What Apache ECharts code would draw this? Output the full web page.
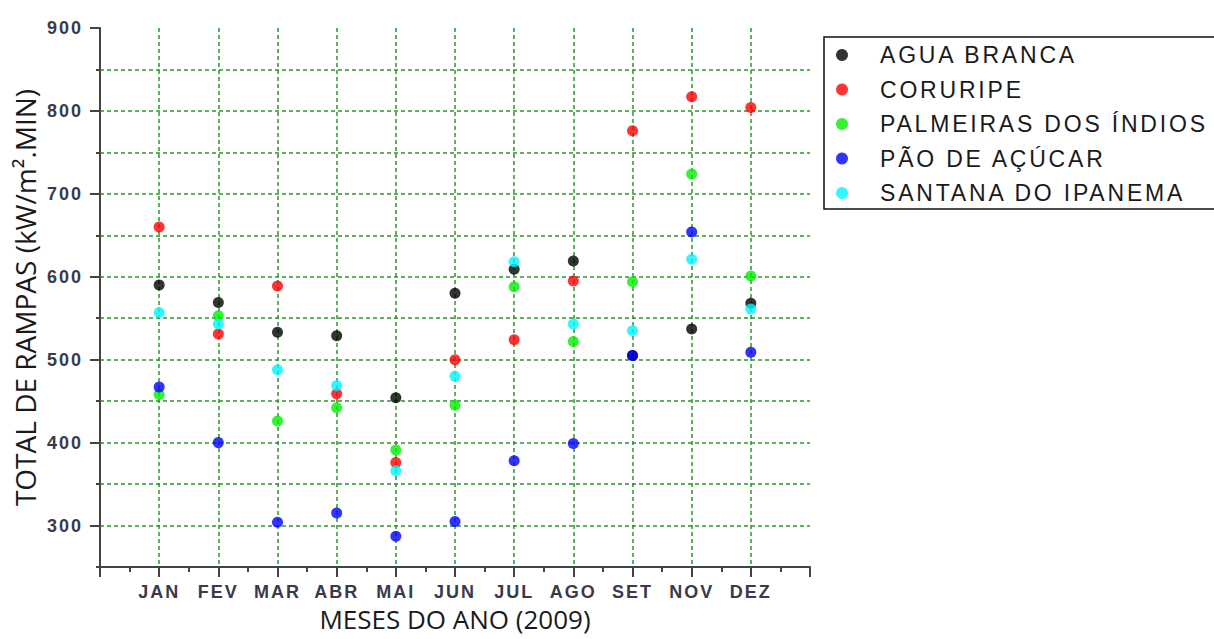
<!DOCTYPE html>
<html>
<head>
<meta charset="utf-8">
<script src="https://cdn.jsdelivr.net/npm/echarts@6/dist/echarts.min.js"></script>
<style>
  html, body { margin: 0; padding: 0; background: #fff; overflow: hidden; }
  #chart { width: 1214px; height: 639px; overflow: hidden; }
  /* spaced-out lettering for tick labels and legend entries */
  #chart text[style*="18px"] { letter-spacing: 2px; }
  #chart text[style*="23px"] { letter-spacing: 2.8px; }
</style>
</head>
<body>
<div id="chart"></div>
<script>
// Months shown on the x axis (positions 1..11)
const months = ['JAN', 'FEV', 'MAR', 'ABR', 'MAI', 'JUN', 'JUL', 'AGO', 'SET', 'NOV', 'DEZ'];
const yTickLabels = [300, 400, 500, 600, 700, 800, 900];

// Total de rampas per station, one value per month
const aguaBranca        = [590, 569, 533, 529, 454, 580, 609, 619, 505, 537, 568];
const coruripe          = [660, 531, 589, 459, 376, 500, 524, 595, 776, 817, 804];
const palmeirasIndios   = [458, 553, 426, 442, 391, 445, 588, 522, 594, 724, 601];
const paoDeAcucar       = [467, 400, 304, 315, 287, 305, 378, 399, 505, 654, 509];
const santanaIpanema    = [557, 543, 488, 469, 366, 480, 618, 543, 535, 621, 561];

const seriesNames  = ['AGUA BRANCA', 'CORURIPE', 'PALMEIRAS DOS ÍNDIOS', 'PÃO DE AÇÚCAR', 'SANTANA DO IPANEMA'];
const seriesValues = [aguaBranca, coruripe, palmeirasIndios, paoDeAcucar, santanaIpanema];
const seriesColors = ['#000000', '#ff0000', '#00f000', '#0000ff', '#00f5ff'];

const axisColor = '#444444';
const gridLine = { show: true, showMinLine: false, showMaxLine: false,
  lineStyle: { color: '#2a952a', width: 1.5, type: [4, 3] } };
const tickFont = { fontFamily: 'Liberation Sans', fontSize: 18, fontWeight: 'bold', color: '#3a3a4a' };

const chart = echarts.init(document.getElementById('chart'), null, { renderer: 'svg' });

chart.setOption({
  backgroundColor: '#ffffff',
  animation: false,
  grid: { left: 100, right: 404, top: 28, bottom: 72, outerBoundsMode: 'none', containLabel: false },
  legend: {
    orient: 'vertical',
    left: 836, top: 43,
    padding: 0,
    itemGap: 10.5,
    itemWidth: 12, itemHeight: 12,
    icon: 'circle',
    data: seriesNames,
    textStyle: { fontFamily: 'Liberation Sans', fontSize: 23, color: '#1a1a1a',
      lineHeight: 24, padding: [0, 0, 0, 27] }
  },
  graphic: [{
    // legend frame, running past the right edge
    type: 'polyline', z: 100,
    shape: { points: [[1300, 37], [824, 37], [824, 209], [1300, 209]] },
    style: { fill: 'none', stroke: '#111', lineWidth: 1.5 }
  }],
  xAxis: {
    type: 'value', min: 0, max: 12, interval: 1,
    name: 'MESES DO ANO (2009)', nameLocation: 'middle', nameGap: 39, nameMoveOverlap: false,
    nameTextStyle: { fontFamily: 'Open Sans', fontSize: 26, lineHeight: 26, color: '#1a1a1a' },
    axisLine: { show: true, onZero: false, lineStyle: { color: axisColor, width: 2 } },
    axisTick: { show: true, length: 10, lineStyle: { color: axisColor, width: 2 } },
    minorTick: { show: true, splitNumber: 2, length: 5, lineStyle: { color: axisColor, width: 2 } },
    axisLabel: Object.assign({
      margin: 16,
      showMinLabel: false, showMaxLabel: false,
      formatter: v => (v >= 1 && v <= months.length ? months[v - 1] : '')
    }, tickFont),
    splitLine: gridLine
  },
  yAxis: [{
    // value axis with dashed grid and short ticks every 50 units
    type: 'value', min: 250, max: 900, interval: 50, position: 'left',
    name: 'TOTAL DE RAMPAS (kW/m².MIN)', nameLocation: 'middle', nameGap: 61, nameMoveOverlap: false,
    nameTextStyle: { fontFamily: 'Open Sans', fontSize: 28, color: '#1a1a1a' },
    axisLine: { show: true, onZero: false, lineStyle: { color: axisColor, width: 2 } },
    axisTick: { show: true, length: 4, lineStyle: { color: axisColor, width: 2 } },
    axisLabel: Object.assign({
      margin: 17,
      formatter: v => (yTickLabels.indexOf(v) >= 0 ? String(v) : '')
    }, tickFont),
    splitLine: gridLine
  }, {
    // long ticks at the labelled hundreds
    type: 'value', min: 250, max: 900, interval: 50, position: 'left', offset: 0,
    axisLine: { show: false },
    axisTick: { show: true, length: 10, customValues: yTickLabels, lineStyle: { color: axisColor, width: 2 } },
    axisLabel: { show: false },
    splitLine: { show: false }
  }],
  series: seriesNames.map((name, i) => ({
    name: name,
    type: 'scatter',
    yAxisIndex: 0,
    symbol: 'circle',
    symbolSize: 11,
    itemStyle: { color: seriesColors[i] },
    data: seriesValues[i].map((v, m) => [m + 1, v])
  }))
});
</script>
</body>
</html>
